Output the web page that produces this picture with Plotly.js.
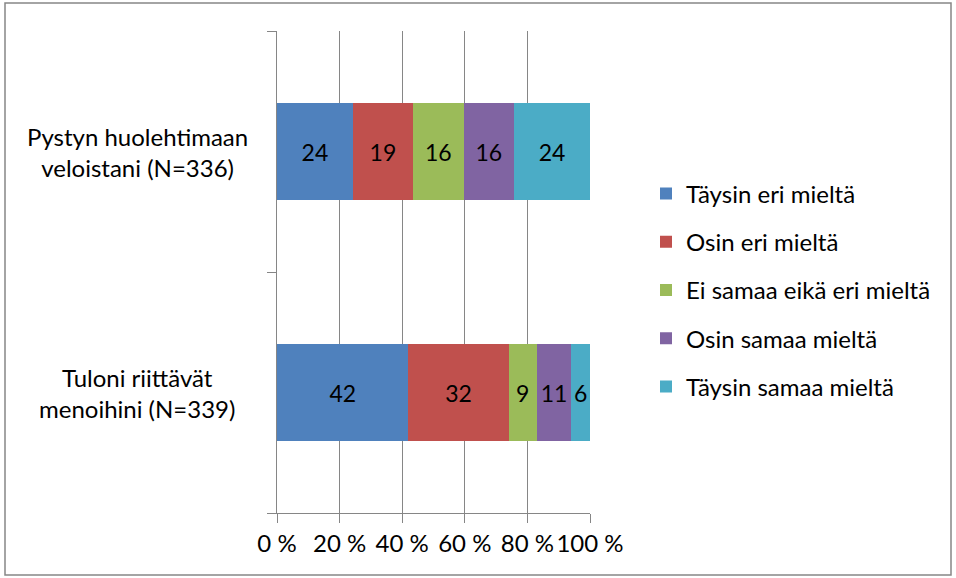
<!DOCTYPE html>
<html>
<head>
<meta charset="utf-8">
<script src="https://cdn.plot.ly/plotly-3.0.1.min.js"></script>
<style>
html,body{margin:0;padding:0;background:#fff;}
#chart{width:956px;height:578px;}
</style>
</head>
<body>
<div id="chart"></div>
<script>
const categories = ["Pystyn huolehtimaan<br>veloistani (N=336)", "Tuloni riittävät<br>menoihini (N=339)"];
const seriesNames = ["Täysin eri mieltä", "Osin eri mieltä", "Ei samaa eikä eri mieltä", "Osin samaa mieltä", "Täysin samaa mieltä"];
const taysinEri = [24, 42];
const osinEri = [19, 32];
const eiSamaaEikaEri = [16, 9];
const osinSamaa = [16, 11];
const taysinSamaa = [24, 6];
const tickValues = [0, 20, 40, 60, 80, 100];
const tickLabels = ["0 %", "20 %", "40 %", "60 %", "80 %", "100 %"];

const colors = ["#4F81BD", "#C0504D", "#9BBB59", "#8064A2", "#4BACC6"];
const values = [taysinEri, osinEri, eiSamaaEikaEri, osinSamaa, taysinSamaa];
const FONT = "Lato, 'Open Sans', sans-serif";
const FS = 24;

const traces = values.map((v, i) => ({
  type: "bar",
  orientation: "h",
  name: seriesNames[i],
  legendgroup: "g" + i,
  y: categories,
  x: v,
  text: v.map(String),
  textposition: "inside",
  insidetextanchor: "middle",
  textangle: 0,
  textfont: {family: FONT, size: 23, color: "#000"},
  marker: {color: colors[i], line: {width: 0}},
  hoverinfo: "skip"
}));

// plot area in pixels
const L = 277, R = 590, T = 31, B = 513;
const W = 956, H = 578;
const px2x = p => (p - L) / (R - L);
const px2y = p => (B - p) / (B - T);

const layout = {
  width: W, height: H,
  margin: {l: L, r: W - R, t: T, b: H - B, pad: 0},
  paper_bgcolor: "#fff",
  plot_bgcolor: "#fff",
  barmode: "stack",
  barnorm: "percent",
  bargap: 0.6,
  font: {family: FONT, size: FS, color: "#000"},
  uniformtext: {mode: "show", minsize: 23},
  showlegend: true,
  legend: {
    x: px2x(646), xanchor: "left",
    y: px2y(290), yanchor: "middle",
    traceorder: "grouped",
    tracegroupgap: 14,
    font: {family: FONT, size: FS, color: "#000"},
    itemwidth: 30,
    bgcolor: "rgba(0,0,0,0)"
  },
  xaxis: {
    range: [0, 100],
    tickmode: "array",
    tickvals: tickValues,
    ticktext: tickLabels,
    showgrid: true,
    gridcolor: "#868686",
    gridwidth: 1,
    zeroline: false,
    showline: true,
    linecolor: "#868686",
    linewidth: 1,
    ticks: "outside",
    ticklen: 9,
    tickcolor: "#868686",
    tickfont: {family: FONT, size: FS, color: "#000"},
    fixedrange: true
  },
  yaxis: {
    type: "category",
    categoryorder: "array",
    categoryarray: categories.slice().reverse(),
    showticklabels: false,
    showgrid: false,
    zeroline: false,
    showline: true,
    linecolor: "#868686",
    linewidth: 1,
    ticks: "outside",
    tickson: "boundaries",
    ticklen: 9,
    tickcolor: "#868686",
    fixedrange: true
  },
  annotations: categories.map(c => ({
    xref: "paper", yref: "y",
    x: px2x(137), y: c,
    xanchor: "center", yanchor: "middle",
    text: c, align: "center", showarrow: false,
    font: {family: FONT, size: FS, color: "#000"}
  })),
  shapes: [{
    type: "rect", xref: "paper", yref: "paper",
    x0: px2x(5), x1: px2x(951), y0: px2y(3), y1: px2y(575),
    line: {color: "#868686", width: 1.5}, fillcolor: "rgba(0,0,0,0)", layer: "below"
  }]
};

Plotly.newPlot("chart", traces, layout, {displayModeBar: false, staticPlot: true});
</script>
</body>
</html>
